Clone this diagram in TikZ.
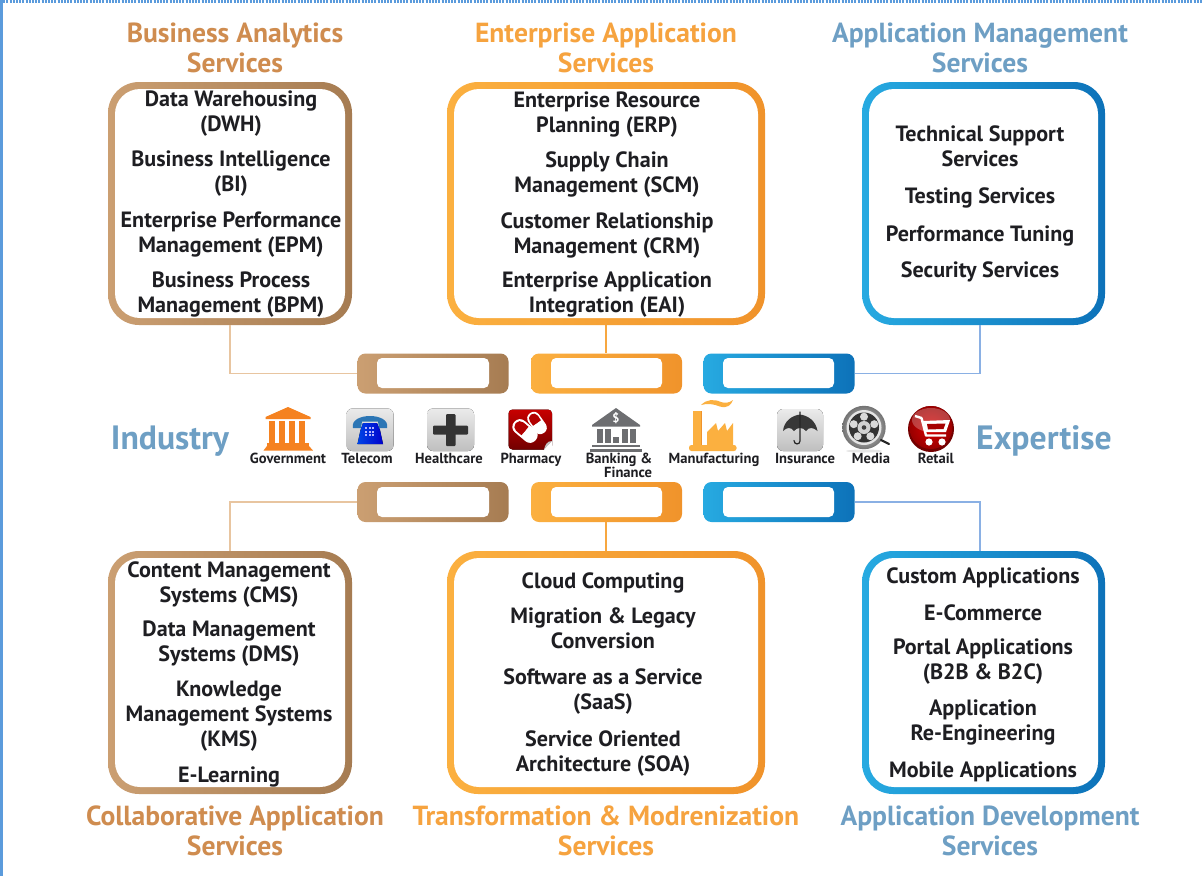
\documentclass[tikz,border=0pt]{standalone}
\usepackage{fontspec}
\setmainfont{PT Sans}
\usetikzlibrary{shapes.geometric,calc}
\definecolor{brL}{HTML}{CB9F72}\definecolor{brR}{HTML}{A67C52}
\definecolor{orL}{HTML}{FBB040}\definecolor{orR}{HTML}{F0932B}
\definecolor{blL}{HTML}{27AAE1}\definecolor{blR}{HTML}{0D72B9}
\definecolor{hbr}{HTML}{CF8C4F}\definecolor{hor}{HTML}{F6A33F}\definecolor{hbl}{HTML}{6E9FC4}
\definecolor{edge}{HTML}{5B9BDC}\definecolor{txt}{HTML}{1E1E22}
\definecolor{lbr}{HTML}{E8C5A0}\definecolor{lor}{HTML}{F7A740}\definecolor{lbl}{HTML}{8AB0E4}
\definecolor{gov}{HTML}{F58220}\definecolor{bankg}{HTML}{6D6E71}
\tikzset{
 shell/.style n args={4}{minimum width=#1,minimum height=#2,rounded corners=#3,inner sep=0pt,draw=none,
   left color=#4L,right color=#4R,shade},
 hole/.style n args={3}{minimum width=#1,minimum height=#2,rounded corners=#3,inner sep=0pt,fill=white,draw=none},
 item/.style={font=\fontsize{22.1}{24.8}\selectfont\bfseries,text=txt,align=center,inner sep=0pt,yshift=-2.5pt,
   execute at begin node=\strut,execute at end node=\strut},
 head/.style={font=\fontsize{27.6}{30}\selectfont\bfseries,text=#1,align=center,inner sep=0pt,yshift=-1pt},
 tag/.style={font=\fontsize{14.6}{14}\selectfont\bfseries,text=txt,align=center,inner sep=0pt,yshift=-2pt,
   execute at begin node=\strut,execute at end node=\strut},
 side/.style={font=\fontsize{33.7}{34}\selectfont\bfseries,text=hbl,inner sep=0pt},
 wire/.style={line width=1.3pt,draw=#1},
 tile/.style={rounded corners=6pt,draw=none,top color=white!92!black,bottom color=black!25}
}
\begin{document}
\begin{tikzpicture}[x=1pt,y=-1pt]
\useasboundingbox (0,0) rectangle (1203,876);
\fill[white] (0,0) rectangle (1203,876);
% page frame
\fill[edge] (0,0) rectangle (2.6,876);
\draw[edge,line width=2.6pt,dash pattern=on 2pt off 1.2pt] (0,1.5) -- (1203,1.5);

% large boxes
\node[shell={244pt}{243pt}{31pt}{br}] (bi) at (230,203.5) {};
\node[hole={230pt}{229pt}{25pt}] at (bi) {};
\node[shell={318pt}{243pt}{31pt}{or}] (ea) at (606,203.5) {};
\node[hole={304pt}{229pt}{25pt}] at (ea) {};
\node[shell={243pt}{243pt}{31pt}{bl}] (am) at (983.5,203.5) {};
\node[hole={229pt}{229pt}{25pt}] at (am) {};
\node[shell={244pt}{243pt}{31pt}{br}] (co) at (230,672.5) {};
\node[hole={230pt}{229pt}{25pt}] at (co) {};
\node[shell={318pt}{243pt}{31pt}{or}] (tr) at (606,672.5) {};
\node[hole={304pt}{229pt}{25pt}] at (tr) {};
\node[shell={243pt}{243pt}{31pt}{bl}] (ad) at (983.5,672.5) {};
\node[hole={229pt}{229pt}{25pt}] at (ad) {};

% bars
\node[shell={151pt}{40pt}{8pt}{br}] (b1) at (433,373.5) {};
\node[hole={112pt}{30pt}{5pt}] at (433,373) {};
\node[shell={151pt}{40pt}{8pt}{or}] (b2) at (606.5,373.5) {};
\node[hole={111pt}{30pt}{5pt}] at (606.5,373) {};
\node[shell={151pt}{40pt}{8pt}{bl}] (b3) at (779,373.5) {};
\node[hole={111pt}{30pt}{5pt}] at (778.5,373) {};
\node[shell={151pt}{40pt}{8pt}{br}] (b4) at (433,502) {};
\node[hole={112pt}{30pt}{5pt}] at (433,502) {};
\node[shell={151pt}{40pt}{8pt}{or}] (b5) at (606.5,502) {};
\node[hole={111pt}{30pt}{5pt}] at (606.5,502) {};
\node[shell={151pt}{40pt}{8pt}{bl}] (b6) at (779,502) {};
\node[hole={111pt}{30pt}{5pt}] at (778.5,502) {};

% connectors
\draw[wire=lbr] (bi.south) |- (b1.west);
\draw[wire=lor] (ea.south) -- (ea.south |- b2.north);
\draw[wire=lbl] ([xshift=-3.5pt]am.south) |- (b3.east);
\draw[wire=lbr] (co.north) |- (b4.west);
\draw[wire=lor] (tr.north) -- (tr.north |- b5.south);
\draw[wire=lbl] ([xshift=-3.5pt]ad.north) |- (b6.east);

% headings
\node[head=hbr] (h1) at (235,47) {Business Analytics\\Services};
\node[head=hor] (h2) at (606,47) {Enterprise Application\\Services};
\node[head=hbl] (h3) at (980,47) {Application Management\\Services};
\node[head=hbr] (h4) at (235,830) {Collaborative Application\\Services};
\node[head=hor] (h5) at (606,830) {Transformation \& Modrenization\\Services};
\node[head=hbl] (h6) at (990,830) {Application Development\\Services};

% box texts
\node[item] (t11) at (231,112) {Data Warehousing\\(DWH)};
\node[item] (t12) at (231,172) {Business Intelligence\\(BI)};
\node[item] (t13) at (231,233) {Enterprise Performance\\Management (EPM)};
\node[item] (t14) at (231,293) {Business Process\\Management (BPM)};
\node[item] (t21) at (607,113) {Enterprise Resource\\Planning (ERP)};
\node[item] (t22) at (607,173) {Supply Chain\\Management (SCM)};
\node[item] (t23) at (607,234) {Customer Relationship\\Management (CRM)};
\node[item] (t24) at (607,293) {Enterprise Application\\Integration (EAI)};
\node[item] (t31) at (980,147) {Technical Support\\Services};
\node[item] (t32) at (980,196) {Testing Services};
\node[item] (t33) at (980,234) {Performance Tuning};
\node[item] (t34) at (980,270) {Security Services};
\node[item] (t41) at (229,583) {Content Management\\Systems (CMS)};
\node[item] (t42) at (229,642) {Data Management\\Systems (DMS)};
\node[item] (t43) at (229,715) {Knowledge\\Management Systems\\(KMS)};
\node[item] (t44) at (229,775) {E-Learning};
\node[item] (t51) at (603,581) {Cloud Computing};
\node[item] (t52) at (603,629) {Migration \& Legacy\\Conversion};
\node[item] (t53) at (603,690) {Software as a Service\\(SaaS)};
\node[item] (t54) at (603,752) {Service Oriented\\Architecture (SOA)};
\node[item] (t61) at (983,576) {Custom Applications};
\node[item] (t62) at (983,613) {E-Commerce};
\node[item] (t63) at (983,660) {Portal Applications\\(B2B \& B2C)};
\node[item] (t64) at (983,721) {Application\\Re-Engineering};
\node[item] (t65) at (983,770) {Mobile Applications};

% side titles
\node[side,anchor=base] (ind) at (170,449) {Industry};
\node[side,anchor=base] (exp) at (1044,449) {Expertise};

% icon tags
\node[tag] (g) at (288,458.5) {Government};
\node[tag] (te) at (367,458.5) {Telecom};
\node[tag] (he) at (449,458.5) {Healthcare};
\node[tag] (ph) at (531,458.5) {Pharmacy};
\node[tag,align=right] (ba) at (619,465.5) {Banking \&\\Finance\hspace{1.5pt}};
\node[tag] (ma) at (714,458.5) {Manufacturing};
\node[tag] (in) at (805,458.5) {Insurance};
\node[tag] (me) at (871,458.5) {Media};
\node[tag] (re) at (936,458.5) {Retail};

% --- government
\fill[gov] (288,407) -- (310.5,417) -- (310.5,419) -- (265.5,419) -- (265.5,417) -- cycle;
\foreach \x in {272,282,292,302} \fill[gov] (\x-2.8,420.5) rectangle (\x+2.8,443);
\fill[gov] (267,443) rectangle (309,446);
\fill[gov] (267,446) -- (309,446) -- (313,450.5) -- (263.5,450.5) -- cycle;

% --- telecom
\fill[tile] (346.5,408.5) rectangle (393.5,451);
\fill[left color=blue!70!cyan!90!black,right color=blue!80!black] (357.5,444) -- (360.5,430) -- (363,423) -- (377,423) -- (380,430) -- (383,444) -- cycle;
\fill[cyan!60!blue!85!black] (353,428) .. controls (349,412) and (391,412) .. (387,428) -- (379,428) -- (378,421.5) -- (362,421.5) -- (361,428) -- cycle;
\foreach \xx in {366,369.5,373} \foreach \yy in {428,431.5,435} \fill[white!70!blue] (\xx-1,\yy-1) rectangle (\xx+1,\yy+1);

% --- healthcare
\fill[tile] (427,408.5) rectangle (474,451);
\fill[black!80,rounded corners=1pt] (446,414) rectangle (455.5,446);
\fill[black!80,rounded corners=1pt] (433,425.5) rectangle (468,434.5);

% --- pharmacy
\fill[rounded corners=4pt,top color=red!78!black,bottom color=red!45!black] (508.5,409.5) rectangle (552,449.5);
\fill[white] (552,441) .. controls (549,444) and (546,446) .. (544,449.8) -- (552,449.8) -- cycle;
\fill[black!25] (552,441) .. controls (547,441) and (545,445) .. (544,449.8) .. controls (547,446) and (549,444) .. cycle;
\begin{scope}[shift={(525,431)},rotate=-40]
 \fill[white,rounded corners=7pt] (-14,-7.5) rectangle (14,7.5);
 \fill[red!70!black,rounded corners=5pt] (-12,-5.5) rectangle (0,5.5);
 \fill[red!70!black] (-5,-5.5) rectangle (0,5.5);
\end{scope}
\begin{scope}[shift={(537,423)},rotate=-55]
 \fill[white,rounded corners=6pt] (-12,-6.5) rectangle (12,6.5);
 \fill[red!70!black,rounded corners=4.5pt] (-10.3,-4.8) rectangle (0,4.8);
 \fill[red!70!black] (-5,-4.8) rectangle (0,4.8);
\end{scope}

% --- banking
\fill[bankg] (616,408) -- (640,425) -- (640,426.5) -- (592,426.5) -- (592,425) -- cycle;
\node[font=\fontsize{12.5}{12.5}\selectfont\bfseries,text=white,inner sep=0pt] (dl) at (616,418.5) {\$};
\foreach \x/\h in {600/428.5,608/428.5,616/436.5,624.5/428.5,632.5/428.5}
  \fill[bankg] (\x-3,\h) rectangle (\x+3,443);
\fill[bankg] (592,445) rectangle (640,447);
\fill[bankg] (590,449) rectangle (642,451.5);

% --- manufacturing
\fill[orL] (693,411) rectangle (701,447);
\fill[orR] (701,411) rectangle (702,447);
\fill[orL] (707,448) -- (707,432) -- (716,423) -- (718,431) -- (725,423) -- (727,431) -- (733,423) -- (733,448) -- cycle;
\fill[orL,rounded corners=2.5pt] (689,445) rectangle (736.5,451);
\fill[orL] (701,405) .. controls (707,399) and (714,399) .. (721,402) .. controls (725,403.5) and (729,403) .. (733,400)
  .. controls (731,405.5) and (727,408.5) .. (720,406.5) .. controls (713,404) and (708,403) .. cycle;

% --- insurance
\fill[tile] (777,409) rectangle (823,451);
\fill[black!78] (783,431) .. controls (784,421) and (792,415.5) .. (800,414.5) .. controls (808,415.5) and (816,421) .. (817.5,431) .. controls (813,427) and (809,427) .. (806,431) .. controls (803,427) and (797,427) .. (794,431) .. controls (791,427) and (787,427) .. (783,431) -- cycle;
\draw[black!85,line width=1.2pt,line cap=round] (800,412) -- (800,441) .. controls (800,445) and (794,445) .. (794,440.5);

% --- media
\fill[black!10] (864,451) ellipse (18 and 1.5);
\shade[inner color=black!10,outer color=black!55] (864,427.5) circle (21.7);
\fill[black!10] (864,427.5) circle (17.5);
\fill[black!80] (864,427.5) circle (15);
\fill[black!18] (864,427.5) circle (6.5);
\fill[black!75] (864,427.5) circle (2.3);
\foreach \a in {-90,-18,54,126,198} \fill[black!15] (864,427.5)++(\a:10.8) circle (4);
\draw[black!85,line width=2.2pt,line cap=round] (881,440) -- (889,444);

% --- retail
\fill[red!45!black] (931,429) circle (23);
\shade[inner color=red!85!black,outer color=red!60!black] (931,427.5) circle (21.5);
\fill[white,opacity=.25] (931,420) ellipse (19 and 12);
\draw[white,line width=2.4pt,line join=round] (915,416) -- (921.5,418) -- (926,435.5) -- (946,435.5);
\fill[white] (923,421) -- (950,420) -- (946,432) -- (926,432) -- cycle;
\fill[red!65!black] (927,424) -- (945.5,423.5) -- (943.5,429) -- (928,429.5) -- cycle;
\fill[white] (929,442) circle (3.6);
\fill[white] (942,442) circle (3.6);
\end{tikzpicture}
\end{document}
